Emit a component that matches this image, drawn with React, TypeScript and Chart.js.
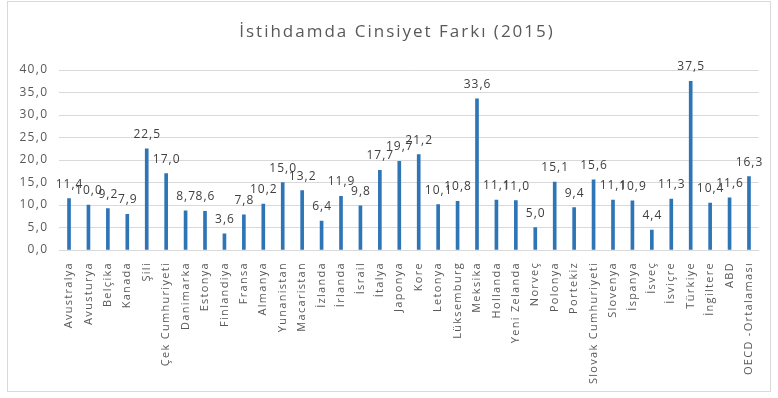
import { useEffect, useRef } from "react";
import { Chart, registerables } from "chart.js";

Chart.register(...registerables);

// Countries along the category axis
const countries = [
  "Avustralya", "Avusturya", "Belçika", "Kanada", "Şili", "Çek Cumhuriyeti",
  "Danimarka", "Estonya", "Finlandiya", "Fransa", "Almanya", "Yunanistan",
  "Macaristan", "İzlanda", "İrlanda", "İsrail", "İtalya", "Japonya", "Kore",
  "Letonya", "Lüksemburg", "Meksika", "Hollanda", "Yeni Zelanda", "Norveç",
  "Polonya", "Portekiz", "Slovak Cumhuriyeti", "Slovenya", "İspanya", "İsveç",
  "İsviçre", "Türkiye", "İngiltere", "ABD", "OECD -Ortalaması",
];

// Employment gender gap per country, percentage points
const gapValues = [
  11.4, 10.0, 9.2, 7.9, 22.5, 17.0, 8.7, 8.6, 3.6, 7.8, 10.2, 15.0, 13.2, 6.4,
  11.9, 9.8, 17.7, 19.7, 21.2, 10.1, 10.8, 33.6, 11.1, 11.0, 5.0, 15.1, 9.4,
  15.6, 11.1, 10.9, 4.4, 11.3, 37.5, 10.4, 11.6, 16.3,
];

// Value axis ticks
const yTickValues = [0, 5, 10, 15, 20, 25, 30, 35, 40];

const chartTitle = "İstihdamda Cinsiyet Farkı (2015)";

const FONT = '"Open Sans", "Liberation Sans", sans-serif';
const TEXT_GREY = "#595959";
const GRID_GREY = "#d9d9d9";
const BAR_BLUE = "#2E75B6";

const fmt = (v: number) => v.toFixed(1).replace(".", ",");

// Title, value labels above each bar, and letter spacing for the tick labels
const textPlugin = {
  id: "textLayers",
  beforeDraw(chart: any) {
    const ctx = chart.ctx;
    ctx.save();
    ctx.letterSpacing = "2px";
    ctx.font = `17px ${FONT}`;
    ctx.fillStyle = TEXT_GREY;
    ctx.textAlign = "center";
    ctx.textBaseline = "middle";
    ctx.fillText(chartTitle, 397, 32.5);
    ctx.restore();
  },
  afterDatasetsDraw(chart: any) {
    const ctx = chart.ctx;
    const meta = chart.getDatasetMeta(0);
    ctx.save();
    ctx.letterSpacing = "1px";
    ctx.font = `12px ${FONT}`;
    ctx.fillStyle = "#404040";
    ctx.textAlign = "center";
    ctx.textBaseline = "alphabetic";
    meta.data.forEach((bar: any, i: number) => {
      ctx.fillText(fmt(gapValues[i]), bar.x + 0.5, bar.y - 11);
    });
    ctx.restore();
    ctx.letterSpacing = "1.3px"; // axis tick labels, drawn after the bars
  },
  afterDraw(chart: any) {
    chart.ctx.letterSpacing = "0px";
  },
};

export default function App() {
  const canvasRef = useRef<HTMLCanvasElement | null>(null);

  useEffect(() => {
    let chart: Chart | null = null;
    let cancelled = false;
    const build = () => {
      if (cancelled || !canvasRef.current) return;
      chart = new Chart(canvasRef.current, {
        type: "bar",
        data: {
          labels: countries,
          datasets: [
            {
              data: gapValues,
              backgroundColor: BAR_BLUE,
              barThickness: 3,
            },
          ],
        },
        options: {
          responsive: false,
          animation: false,
          devicePixelRatio: 1,
          layout: { padding: { left: 0, right: 19.3, top: 70, bottom: 0 } },
          plugins: {
            legend: { display: false },
            tooltip: { enabled: false },
            title: { display: false },
          },
          scales: {
            x: {
              grid: { display: false, drawTicks: false },
              border: { display: true, color: GRID_GREY },
              ticks: {
                z: 1,
                autoSkip: false,
                minRotation: 90,
                maxRotation: 90,
                padding: 12,
                color: TEXT_GREY,
                font: { family: FONT, size: 11 },
              },
              afterFit(scale: any) {
                scale.height = 148;
              },
            },
            y: {
              min: 0,
              max: 40,
              grid: { color: GRID_GREY, drawTicks: false },
              border: { display: false },
              afterBuildTicks(scale: any) {
                scale.ticks = yTickValues.map((v) => ({ value: v }));
              },
              ticks: {
                z: 1,
                padding: 11,
                color: TEXT_GREY,
                font: { family: FONT, size: 12 },
                callback: (v: any) => fmt(Number(v)),
              },
              afterFit(scale: any) {
                scale.width = 59.3;
              },
            },
          },
        },
        plugins: [textPlugin],
      });
    };
    const fontsReady = (document as any).fonts
      ? Promise.all([
          (document as any).fonts.load(`12px "Open Sans"`),
          (document as any).fonts.load(`17px "Open Sans"`),
        ]).catch(() => null)
      : Promise.resolve(null);
    fontsReady.then(build);
    return () => {
      cancelled = true;
      if (chart) chart.destroy();
    };
  }, []);

  return (
    <div
      style={{
        position: "fixed",
        left: 0,
        top: 0,
        width: 778,
        height: 398,
        background: "#ffffff",
      }}
    >
      <div
        style={{
          position: "absolute",
          left: 7,
          top: 1,
          width: 764,
          height: 391,
          boxSizing: "border-box",
          border: `1px solid ${GRID_GREY}`,
        }}
      />
      <canvas
        ref={canvasRef}
        width={778}
        height={398}
        style={{ position: "absolute", left: 0, top: 0, width: 778, height: 398 }}
      />
    </div>
  );
}
